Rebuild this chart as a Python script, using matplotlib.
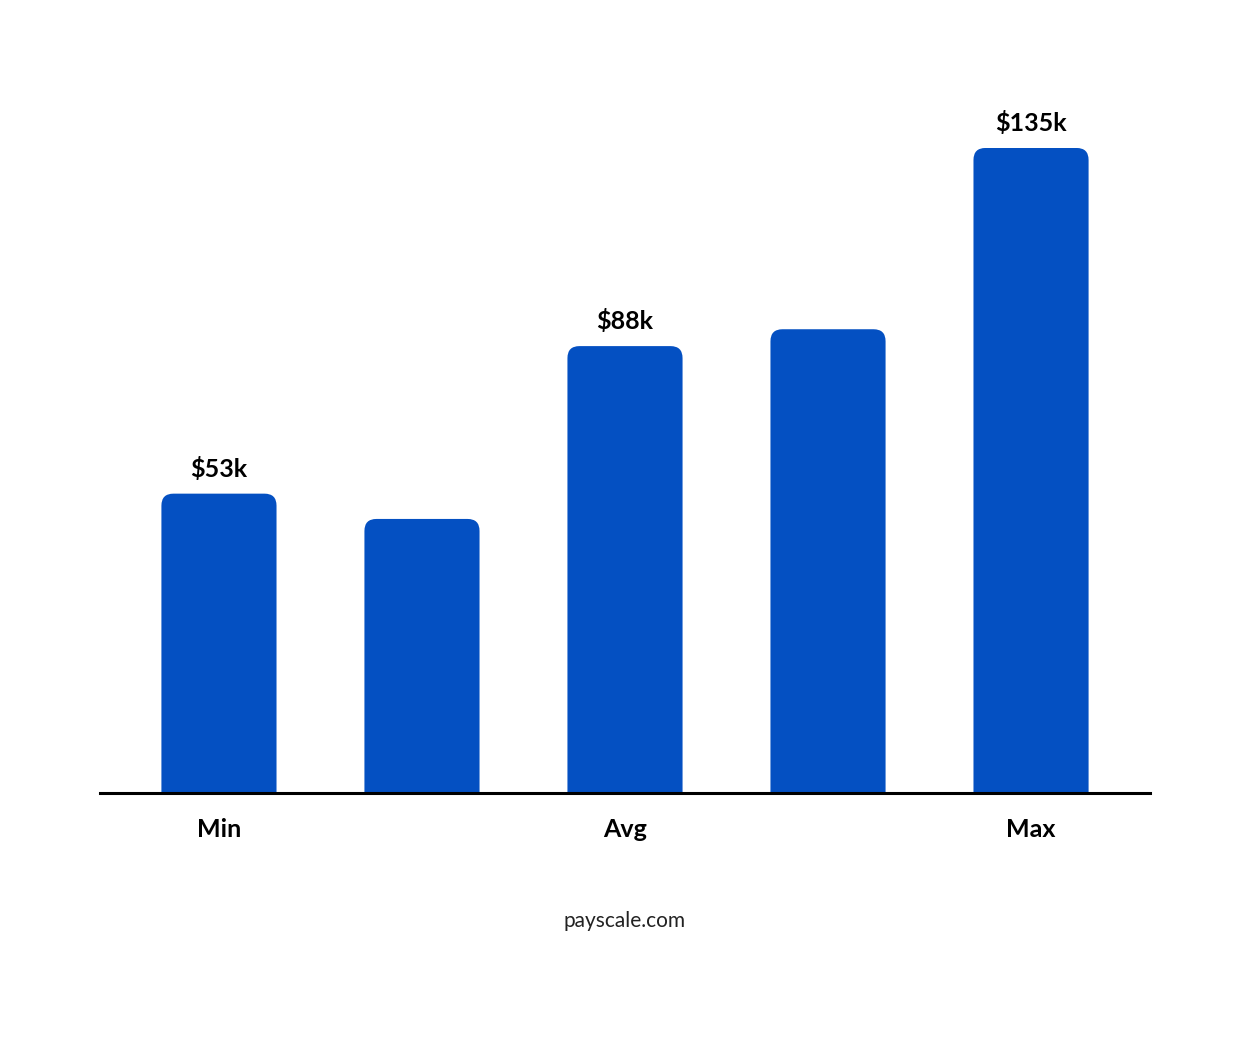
import matplotlib
matplotlib.use("Agg")
import matplotlib.pyplot as plt
from matplotlib.patches import FancyBboxPatch

categories = ["Min", "", "Avg", "", "Max"]
values = [53, 47, 88, 92, 135]
labels = ["$53k", "", "$88k", "", "$135k"]
color = "#0450C2"
ymin = -18

fig = plt.figure(figsize=(12.5, 10.42), dpi=100)
ax = fig.add_axes([0.08, 0.239, 0.84, 0.619])
ax.set_xlim(-0.586, 4.586)
ax.set_ylim(ymin, 135)
bars = ax.bar(range(5), [v - ymin for v in values], bottom=ymin, width=0.567, color=color)
# px per data unit conversion for rounding aspect
ppx = 1050 / 5.172
ppy = 645 / 153
for b, v, lab in zip(bars, values, labels):
    x, y, w, h = b.get_x(), b.get_y(), b.get_width(), b.get_height()
    b.set_visible(False)
    r = 12 / ppx
    p = FancyBboxPatch((x, y - 10), w, h + 10,
                       boxstyle=f"round,pad=0,rounding_size={r}",
                       mutation_aspect=ppx / ppy, color=color, lw=0)
    ax.add_patch(p)
    if lab:
        ax.text(b.get_x() + w / 2, v + 3, lab, ha="center", va="bottom",
                fontsize=18, fontweight="bold", family="Lato", clip_on=False)
for s in ["top", "right", "left"]:
    ax.spines[s].set_visible(False)
ax.spines["bottom"].set_linewidth(2.2)
ax.spines["bottom"].set_zorder(5)
ax.set_yticks([])
ax.set_xticks(range(5))
ax.set_xticklabels(categories, fontsize=18, fontweight="bold", family="Lato")
ax.tick_params(axis="x", length=0, pad=18)
fig.text(0.5, 0.116, "payscale.com", ha="center", va="center", fontsize=15, family="Lato", color="#222222")
fig.savefig("out.png", dpi=100, facecolor="white")
